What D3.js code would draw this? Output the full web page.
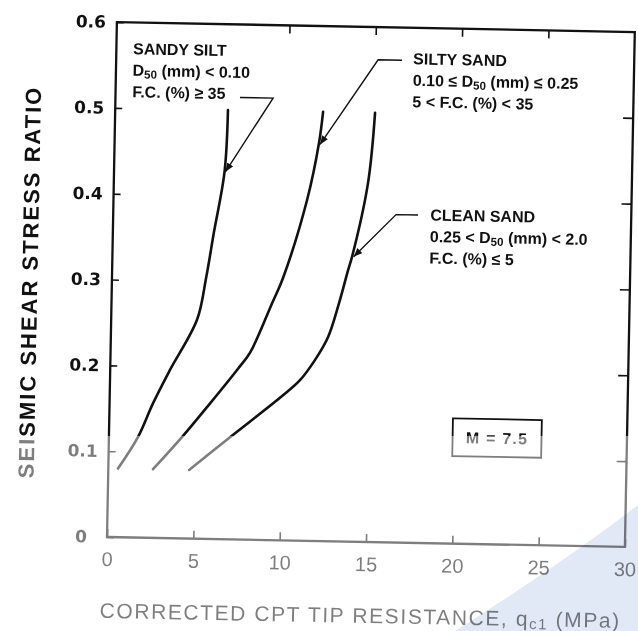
<!DOCTYPE html>
<html>
<head>
<meta charset="utf-8">
<script src="https://cdn.jsdelivr.net/npm/d3@7"></script>
<style>
  body { margin: 0; background: #fff; }
  svg { display: block; }
</style>
</head>
<body>
<div id="chart"></div>
<script>
// curves: corrected tip resistance qc1 (MPa) vs stress ratio
const sandySiltQ = [0.56, 1.68, 2.52, 3.46, 4.97, 5.45, 5.85, 6.40, 6.53];
const sandySiltR = [0.080, 0.117, 0.157, 0.196, 0.255, 0.304, 0.357, 0.428, 0.500];

const siltySandQ = [2.59, 4.23, 5.82, 7.40, 8.08, 9.30, 9.91, 11.21, 11.84, 12.04];
const siltySandR = [0.080, 0.118, 0.158, 0.199, 0.218, 0.276, 0.306, 0.397, 0.464, 0.500];

const cleanSandQ = [4.68, 7.01, 9.86, 11.00, 11.85, 12.58, 13.18, 13.66, 13.88, 14.72, 15.05];
const cleanSandR = [0.080, 0.119, 0.166, 0.187, 0.211, 0.238, 0.278, 0.316, 0.332, 0.418, 0.500];

const xTicks = [0, 5, 10, 15, 20, 25, 30];
const yTicks = [0, 0.1, 0.2, 0.3, 0.4, 0.5, 0.6];
const topTicks = [10, 15, 20, 25];

// label blocks: anchor (q, ratio) and lines; [text, isSub]
const sandySiltLabel = [
  [["SANDY SILT"]],
  [["D"], ["50", 1], [" (mm) < 0.10"]],
  [["F.C. (%) \u2265 35"]]
];
const siltySandLabel = [
  [["SILTY SAND"]],
  [["0.10 \u2264 D"], ["50", 1], [" (mm) \u2264 0.25"]],
  [["5 < F.C. (%) < 35"]]
];
const cleanSandLabel = [
  [["CLEAN SAND"]],
  [["0.25 < D"], ["50", 1], [" (mm) < 2.0"]],
  [["F.C. (%) \u2264 5"]]
];
const labelAnchors = [[0.97, 0.560], [17.2, 0.5545], [18.36, 0.373]];

// leader lines from the labels to the curves
const sandySiltLeader = [[7.21, 0.515], [9.13, 0.515], [6.45, 0.428]];
const siltySandLeader = [[16.55, 0.562], [15.17, 0.562], [11.90, 0.462]];
const cleanSandLeader = [[17.65, 0.382], [16.38, 0.382], [13.97, 0.332]];

const magnitudeText = "M = 7.5";
const magnitudeBox = [19.9, 25.05, 0.102, 0.146];

const W = 638, H = 631;
// the scanned figure sits slightly rotated
const originX = 107, originY = 537, tilt = 1.1;
const plotW = 518, plotH = 515;

const x = d3.scaleLinear().domain([0, 30]).range([0, plotW]);
const y = d3.scaleLinear().domain([0, 0.6]).range([0, -plotH]);

const svg = d3.select("#chart").append("svg")
  .attr("width", W)
  .attr("height", H);

svg.append("rect").attr("width", W).attr("height", H).attr("fill", "#fff");

const defs = svg.append("defs");
defs.append("marker")
  .attr("id", "head")
  .attr("viewBox", "0 0 10 8")
  .attr("refX", 10).attr("refY", 4)
  .attr("markerWidth", 9).attr("markerHeight", 7)
  .attr("markerUnits", "userSpaceOnUse")
  .attr("orient", "auto")
  .append("path").attr("d", "M0,0 L10,4 L0,8 Z").attr("fill", "#111");

const g = svg.append("g")
  .attr("transform", `translate(${originX},${originY}) rotate(${tilt})`);

// frame
g.append("rect")
  .attr("x", x(0)).attr("y", y(0.6))
  .attr("width", x(30) - x(0)).attr("height", y(0) - y(0.6))
  .attr("fill", "none").attr("stroke", "#111").attr("stroke-width", 2.3);

// bottom axis
const axisB = g.append("g")
  .call(d3.axisBottom(x).tickValues(xTicks).tickSize(-8).tickPadding(15).tickFormat(d3.format("d")));
// left axis
const axisL = g.append("g")
  .call(d3.axisLeft(y).tickValues(yTicks).tickSize(-7)
    .tickFormat(d => d === 0 ? "0" : d.toFixed(1)));
// top + right, ticks only
const axisT = g.append("g").attr("transform", `translate(0,${y(0.6)})`)
  .call(d3.axisTop(x).tickValues(topTicks).tickSize(-8).tickFormat(""));
const axisR = g.append("g").attr("transform", `translate(${x(30)},0)`)
  .call(d3.axisRight(y).tickValues(yTicks.slice(1, 6)).tickSize(-10).tickFormat(""));

[axisB, axisL, axisT, axisR].forEach(a => {
  a.select(".domain").remove();
  a.selectAll(".tick line").attr("stroke", "#111").attr("stroke-width", 1.6);
});
axisB.selectAll(".tick text")
  .attr("font-family", "Liberation Sans, Arial, sans-serif")
  .attr("font-size", 20).attr("fill", "#111");
axisL.selectAll(".tick text")
  .attr("text-anchor", "middle").attr("x", -26)
  .attr("font-family", "DejaVu Sans, sans-serif").attr("font-weight", "bold")
  .attr("font-size", 17).attr("fill", "#111");

// axis titles
g.append("text")
  .attr("x", -6).attr("y", 81)
  .attr("font-family", "Liberation Sans, Arial, sans-serif")
  .attr("font-size", 21).attr("letter-spacing", 1.6).attr("fill", "#111")
  .call(t => {
    t.append("tspan").text("CORRECTED CPT TIP RESISTANCE, q");
    t.append("tspan").attr("dy", 3).attr("font-size", 15).text("c1");
    t.append("tspan").attr("dy", -3).text(" (MPa)");
  });

g.append("text")
  .attr("transform", `translate(-74.5,${(y(0) + y(0.6)) / 2 + 4}) rotate(-90)`)
  .attr("text-anchor", "middle")
  .attr("font-family", "Liberation Sans, Arial, sans-serif")
  .attr("font-weight", "bold").attr("font-size", 22).attr("letter-spacing", 2)
  .attr("fill", "#111")
  .text("SEISMIC SHEAR STRESS RATIO");

// the three boundary curves
const line = d3.line()
  .x(d => x(d[0]))
  .y(d => y(d[1]))
  .curve(d3.curveCatmullRom.alpha(0.5));

const curves = [
  d3.zip(sandySiltQ, sandySiltR),
  d3.zip(siltySandQ, siltySandR),
  d3.zip(cleanSandQ, cleanSandR)
];

g.append("g").selectAll("path")
  .data(curves)
  .join("path")
  .attr("d", line)
  .attr("fill", "none")
  .attr("stroke", "#111")
  .attr("stroke-width", 2.6)
  .attr("stroke-linecap", "round");

// leaders with small arrow heads
const leaderLine = d3.line().x(d => x(d[0])).y(d => y(d[1]));
g.append("g").selectAll("path")
  .data([sandySiltLeader, siltySandLeader, cleanSandLeader])
  .join("path")
  .attr("d", leaderLine)
  .attr("fill", "none")
  .attr("stroke", "#111")
  .attr("stroke-width", 1.4)
  .attr("marker-end", "url(#head)");

// label blocks
const blocks = [sandySiltLabel, siltySandLabel, cleanSandLabel];
const lineStep = 21.5;
blocks.forEach((lines, i) => {
  const [q, r] = labelAnchors[i];
  lines.forEach((segs, j) => {
    const t = g.append("text")
      .attr("x", x(q)).attr("y", y(r) + j * lineStep)
      .attr("font-family", "Liberation Sans, Arial, sans-serif")
      .attr("font-weight", "bold").attr("font-size", 16)
      .attr("fill", "#111");
    segs.forEach(([s, sub]) => {
      if (sub) t.append("tspan").attr("dy", 2.5).attr("font-size", 11.5).text(s);
      else t.append("tspan").attr("dy", t.selectAll("tspan").size() ? -2.5 : 0).text(s);
    });
  });
});

// magnitude box
const [bx0, bx1, by0, by1] = magnitudeBox;
g.append("rect")
  .attr("x", x(bx0)).attr("y", y(by1))
  .attr("width", x(bx1) - x(bx0)).attr("height", y(by0) - y(by1))
  .attr("fill", "#fff").attr("stroke", "#111").attr("stroke-width", 1.8);
g.append("text")
  .attr("x", x((bx0 + bx1) / 2)).attr("y", y((by0 + by1) / 2))
  .attr("dy", "0.36em")
  .attr("text-anchor", "middle")
  .attr("font-family", "Liberation Sans, Arial, sans-serif")
  .attr("font-weight", "bold").attr("font-size", 16).attr("letter-spacing", 1.2)
  .attr("fill", "#111")
  .text(magnitudeText);

// lower part of the scan came out grey
svg.append("rect")
  .attr("x", 0).attr("y", 436)
  .attr("width", W).attr("height", H - 436)
  .attr("fill", "#fff").attr("opacity", 0.46);

// faint blue smudge in the lower right of the scan
svg.append("path")
  .attr("d", `M${W},505 Q560,565 455,${H} L${W},${H} Z`)
  .attr("fill", "#e2e9f6")
  .style("mix-blend-mode", "multiply");
</script>
</body>
</html>
